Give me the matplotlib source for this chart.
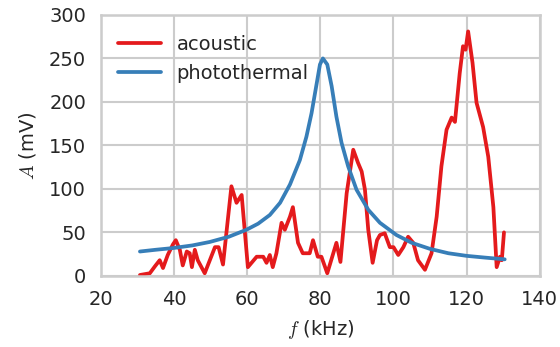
import numpy as np
import matplotlib
matplotlib.use('Agg')
import matplotlib.pyplot as plt
import seaborn as sns

sns.set_style('whitegrid')
plt.rcParams.update({
    'font.family': ['DejaVu Sans'],
    'mathtext.fontset': 'cm',
    'axes.labelsize': 14,
    'xtick.labelsize': 14,
    'ytick.labelsize': 14,
    'legend.fontsize': 14,
    'grid.color': '#cccccc',
    'grid.linewidth': 1.5,
    'axes.edgecolor': '#cccccc',
    'axes.linewidth': 1.8,
    'lines.solid_joinstyle': 'round',
})

# acoustic signal (kHz, mV)
f_acoustic = [30.7, 33.4, 34.8, 36.1, 37.0, 38.3, 39.7, 40.5, 41.6, 42.4, 43.5, 44.3,
              44.9, 45.7, 46.5, 48.4, 51.2, 52.2, 53.4, 55.7, 57.1, 58.5, 60.2, 62.6,
              64.4, 65.3, 66.2, 67.0, 68.0, 69.4, 70.3, 71.7, 72.5, 73.9, 75.2, 77.1,
              78.0, 79.3, 80.3, 81.9, 84.4, 85.5, 87.2, 89.0, 90.3, 91.3, 92.2, 93.1,
              94.3, 95.5, 96.3, 97.6, 99.0, 100.0, 101.3, 102.7, 104.0, 105.4, 106.7,
              108.6, 110.4, 111.8, 113.1, 114.5, 115.9, 116.8, 118.1, 119.0, 119.7,
              120.4, 121.6, 122.7, 124.5, 125.9, 127.3, 128.2, 129.1, 129.6, 130.2]
a_acoustic = [1, 3, 11, 18, 9, 24, 36, 41, 30, 12, 28, 26,
              10, 30, 18, 3, 33, 33, 13, 103, 84, 93, 10, 22,
              22, 15, 24, 10, 26, 61, 53, 68, 79, 38, 26, 26,
              41, 22, 22, 3, 38, 16, 95, 145, 130, 120, 99, 53,
              15, 41, 47, 49, 33, 33, 24, 33, 45, 38, 18,
              7, 26, 68, 126, 168, 182, 177, 233, 264, 260,
              281, 245, 199, 171, 137, 79, 10, 22, 18, 50]

# photothermal signal (kHz, mV)
f_photo = [30.7, 35.0, 39.8, 45.0, 49.8, 55.0, 59.8, 63.0, 66.2, 69.0, 71.7,
           74.4, 76.2, 77.6, 79.0, 79.9, 80.7, 81.9, 83.1, 84.4, 85.8, 87.6,
           89.9, 93.1, 96.3, 100.8, 105.0, 110.0, 115.0, 120.0, 125.0, 130.4]
a_photo = [28, 30, 32, 35, 39, 45, 53, 60, 70, 84, 105,
           133, 160, 187, 221, 243, 250, 243, 218, 183, 153, 126,
           99, 76, 61, 47, 38, 31, 26, 23, 21, 19]

fig = plt.figure(figsize=(5.6, 3.47), dpi=100)
ax = fig.add_axes([0.180, 0.205, 0.784, 0.752])
ax.plot(f_acoustic, a_acoustic, color='#e41a1c', lw=2.7, label='acoustic')
ax.plot(f_photo, a_photo, color='#377eb8', lw=2.7, label='photothermal')
ax.set_xlim(20, 140)
ax.set_ylim(0, 300)
ax.set_xticks(np.arange(20, 141, 20))
ax.set_yticks(np.arange(0, 301, 50))
ax.tick_params(axis='both', colors='#262626', pad=7)
ax.set_xlabel(r'$f$ (kHz)', labelpad=6)
ax.set_ylabel(r'$A$ (mV)', labelpad=8)
ax.legend(loc='upper left', frameon=False, handlelength=2.2,
          bbox_to_anchor=(0.0, 0.99))

plt.savefig('out.png', dpi=100)
